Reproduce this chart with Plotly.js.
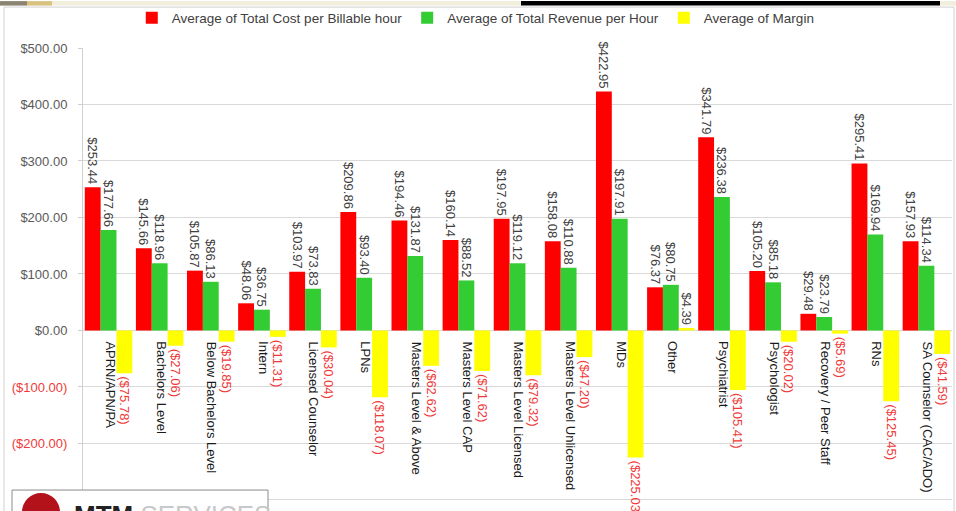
<!DOCTYPE html>
<html>
<head>
<meta charset="utf-8">
<script src="https://cdn.plot.ly/plotly-3.0.1.min.js"></script>
<style>html,body{margin:0;padding:0;background:#fff;}#chart{width:956px;height:511px;}</style>
</head>
<body>
<div id="chart"></div>
<script>
const categories = ["APRN/APN/PA","Bachelors Level","Below Bachelors Level","Intern","Licensed Counselor","LPNs","Masters Level & Above","Masters Level CAP","Masters Level Licensed","Masters Level Unlicensed","MDs","Other","Psychiatrist","Psychologist","Recovery / Peer Staff","RNs","SA Counselor (CAC/ADO)"];
const costPerHour = [253.44,145.66,105.87,48.06,103.97,209.86,194.46,160.14,197.95,158.08,422.95,76.37,341.79,105.20,29.48,295.41,157.93];
const revenuePerHour = [177.66,118.96,86.13,36.75,73.83,93.40,131.87,88.52,119.12,110.88,197.91,80.75,236.38,85.18,23.79,169.94,114.34];
const margin = [-75.78,-27.06,-19.85,-11.31,-30.04,-118.07,-62.62,-71.62,-79.32,-47.20,-225.03,4.39,-105.41,-20.02,-5.69,-125.45,-41.59];
const seriesNames = ["Average of Total Cost per Billable hour","Average of Total Revenue per Hour","Average of Margin"];
const yTickVals = [-300,-200,-100,0,100,200,300,400,500];

const FONT = "Liberation Sans, Arial, sans-serif";
const DARK = "#404040";
const NEG = "#f03a3a";
const fmt = v => v < 0 ? "($" + Math.abs(v).toFixed(2) + ")" : "$" + v.toFixed(2);

// pixel -> paper helpers (plot area: x 83..952, y 47..505)
const L = 83, R = 952, T = 47, B = 505;
const px = x => (x - L) / (R - L);
const py = y => (B - y) / (B - T);

const barCommon = {
  type: "bar",
  x: categories,
  textposition: "outside",
  textangle: 90,
  constraintext: "none",
  cliponaxis: false,
  hoverinfo: "skip"
};

const traces = [
  Object.assign({}, barCommon, {
    name: seriesNames[0], y: costPerHour, text: costPerHour.map(fmt),
    marker: {color: "#ff0000"}, textfont: {family: FONT, size: 13, color: DARK}
  }),
  Object.assign({}, barCommon, {
    name: seriesNames[1], y: revenuePerHour, text: revenuePerHour.map(fmt),
    marker: {color: "#33cc33"}, textfont: {family: FONT, size: 13, color: DARK}
  }),
  Object.assign({}, barCommon, {
    name: seriesNames[2], y: margin, text: margin.map(fmt),
    marker: {color: "#ffff00"}, textfont: {family: FONT, size: 13, color: margin.map(v => v < 0 ? NEG : DARK)}
  })
];

const yTickText = yTickVals.map(v => v === -300 ? "" : (v < 0 ? '<span style="color:' + NEG + '">' + fmt(v) + '</span>' : fmt(v)));

const annotations = categories.map(c => ({
  x: c, y: 0, xref: "x", yref: "y", text: c, textangle: 90,
  xanchor: "center", yanchor: "top", yshift: -9, xshift: 1, showarrow: false,
  font: {family: FONT, size: 13, color: "#1a1a1a"}
}));
// logo text (partly cut by page edge)
annotations.push({
  xref: "paper", yref: "paper", x: px(72), y: py(498), xanchor: "left", yanchor: "top",
  text: '<b>MTM</b> <span style="color:#c8c8c8">SERVICES</span>', showarrow: false,
  font: {family: FONT, size: 26, color: "#222"}
});

const shapes = [
  // top strip from screenshot
  {type: "rect", xref: "paper", yref: "paper", x0: px(0), x1: px(27), y0: py(0), y1: py(4.5), fillcolor: "#8c8472", line: {width: 0}, layer: "above"},
  {type: "rect", xref: "paper", yref: "paper", x0: px(27), x1: px(52), y0: py(0), y1: py(4.5), fillcolor: "#d9c27e", line: {width: 0}, layer: "above"},
  {type: "rect", xref: "paper", yref: "paper", x0: px(52), x1: px(521), y0: py(0), y1: py(4.5), fillcolor: "#f2eedc", line: {width: 0}, layer: "above"},
  {type: "rect", xref: "paper", yref: "paper", x0: px(521), x1: px(940), y0: py(0), y1: py(4.5), fillcolor: "#000000", line: {width: 0}, layer: "above"},
  {type: "rect", xref: "paper", yref: "paper", x0: px(940), x1: px(956), y0: py(0), y1: py(4.5), fillcolor: "#f2eedc", line: {width: 0}, layer: "above"},
  // chart frame
  {type: "rect", xref: "paper", yref: "paper", x0: px(4), x1: px(954), y0: py(6), y1: py(530), fillcolor: "rgba(0,0,0,0)", line: {width: 1, color: "#d0d0d0"}, layer: "below"},
  // logo box
  {type: "rect", xref: "paper", yref: "paper", x0: px(12), x1: px(268), y0: py(490), y1: py(540), fillcolor: "#ffffff", line: {width: 1, color: "#8a8a8a"}, layer: "above"},
  {type: "circle", xref: "paper", yref: "paper", x0: px(22), x1: px(60), y0: py(493), y1: py(531), fillcolor: "#b3121a", line: {width: 0}, layer: "above"}
];

const layout = {
  width: 956, height: 511,
  margin: {l: L, r: 956 - R, t: T, b: 511 - B, pad: 0},
  paper_bgcolor: "#ffffff", plot_bgcolor: "#ffffff",
  font: {family: FONT, size: 13, color: DARK},
  barmode: "group", bargap: 0.07, bargroupgap: 0,
  showlegend: true,
  legend: {orientation: "h", x: 0.452, xanchor: "center", y: py(18), yanchor: "middle",
           font: {family: FONT, size: 13.5, color: DARK}, bgcolor: "rgba(0,0,0,0)", itemwidth: 30},
  xaxis: {type: "category", range: [-0.5, 16.5], showticklabels: false, ticks: "", showgrid: false,
          zeroline: false, showline: false, fixedrange: true},
  yaxis: {range: [-309, 500], tickvals: yTickVals, ticktext: yTickText, showgrid: true, gridcolor: "#d9d9d9",
          gridwidth: 1, zeroline: true, zerolinecolor: "#d9d9d9", zerolinewidth: 1,
          showline: true, linecolor: "#d0d0d0", linewidth: 1, ticks: "outside", ticklen: 4, tickcolor: "#d0d0d0",
          ticklabelstandoff: 8, tickfont: {family: FONT, size: 13, color: "#595959"}, fixedrange: true},
  annotations: annotations,
  shapes: shapes
};

Plotly.newPlot("chart", traces, layout, {displayModeBar: false, staticPlot: true});
</script>
</body>
</html>
